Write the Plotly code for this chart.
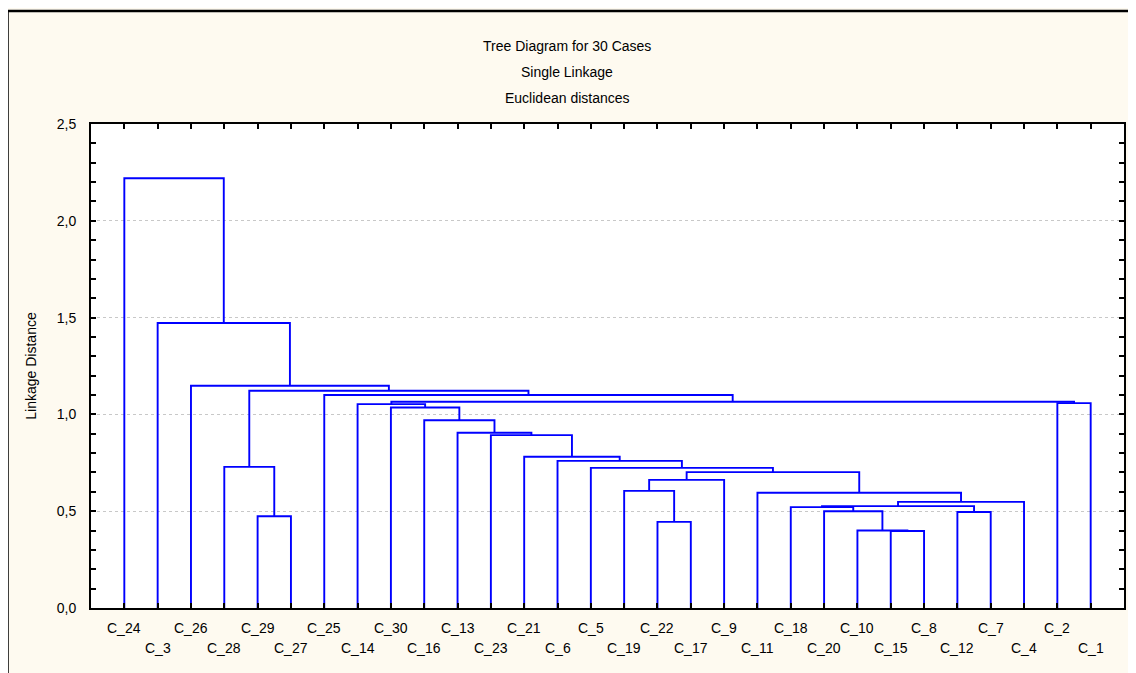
import plotly.graph_objects as go

# ---- data ----
leaves = ["C_24", "C_3", "C_26", "C_28", "C_29", "C_27", "C_25", "C_14", "C_30", "C_16",
          "C_13", "C_23", "C_21", "C_6", "C_5", "C_19", "C_22", "C_17", "C_9", "C_11",
          "C_18", "C_20", "C_10", "C_15", "C_8", "C_12", "C_7", "C_4", "C_2", "C_1"]

# merge k creates cluster "n{30+k}"
merge_left = ["C_15", "C_10", "C_22", "C_29", "C_12", "C_20", "C_18", "n36", "n37", "C_11",
              "C_19", "n40", "n41", "C_5", "C_28", "C_6", "C_21", "C_23", "C_13", "C_16",
              "C_30", "C_14", "C_2", "n51", "C_25", "n44", "C_26", "C_3", "C_24"]
merge_right = ["C_8", "n30", "C_17", "C_27", "C_7", "n31", "n35", "n34", "C_4", "n38",
               "n32", "C_9", "n39", "n42", "n33", "n43", "n45", "n46", "n47", "n48",
               "n49", "n50", "C_1", "n52", "n53", "n54", "n55", "n56", "n57"]
merge_height = [0.398, 0.400, 0.445, 0.474, 0.496, 0.500, 0.521, 0.526, 0.548, 0.595,
                0.605, 0.662, 0.702, 0.724, 0.729, 0.760, 0.781, 0.893, 0.905, 0.970,
                1.036, 1.053, 1.058, 1.065, 1.100, 1.122, 1.148, 1.472, 2.220]

y_ticks = [0.0, 0.5, 1.0, 1.5, 2.0, 2.5]

title_lines = ["Tree Diagram for 30 Cases", "Single Linkage", "Euclidean distances"]

# ---- build tree paths ----
pos = {lab: i for i, lab in enumerate(leaves)}
hgt = {lab: 0.0 for lab in leaves}
xs, ys = [], []
for k, (a, b, h) in enumerate(zip(merge_left, merge_right, merge_height)):
    xa, xb = pos[a], pos[b]
    xs += [xa, xa, xb, xb, None]
    ys += [hgt[a], h, h, hgt[b], None]
    nid = f"n{30 + k}"
    pos[nid] = (xa + xb) / 2.0
    hgt[nid] = h

fig = go.Figure(go.Scatter(x=xs, y=ys, mode="lines",
                           line=dict(color="#0000FF", width=1.9),
                           hoverinfo="skip", showlegend=False))

FONT = "Liberation Sans, Arial, sans-serif"
FS = 14

annotations = []
for i, lab in enumerate(leaves):
    annotations.append(dict(x=i, y=0, xref="x", yref="paper", text=lab, showarrow=False,
                            yanchor="middle", yshift=-20 if i % 2 == 0 else -40,
                            font=dict(family=FONT, size=FS, color="black")))
for j, t in enumerate(title_lines):
    annotations.append(dict(x=0.461, y=1, xref="paper", yref="paper", text=t, showarrow=False,
                            xanchor="center", yanchor="middle", yshift=78 - 26 * j,
                            font=dict(family=FONT, size=FS, color="black")))

fig.update_layout(
    width=1128, height=665,
    margin=dict(l=83, r=10, t=116, b=65),
    paper_bgcolor="#FEFAF0", plot_bgcolor="white",
    separators=",.",
    font=dict(family=FONT, size=FS, color="black"),
    annotations=annotations,
    shapes=[dict(type="rect", xref="paper", yref="paper",
                 xsizemode="pixel", ysizemode="pixel", xanchor=0, yanchor=1,
                 x0=-83.5, x1=1080, y0=113, y1=-620,
                 line=dict(color="black", width=2.5), layer="above")],
    xaxis=dict(range=[-1, 30], tickvals=list(range(len(leaves))), showticklabels=False,
               ticks="inside", ticklen=5, tickwidth=1.5, tickcolor="black",
               showline=True, linecolor="black", linewidth=2, mirror="ticks",
               showgrid=False, zeroline=False),
    yaxis=dict(range=[0, 2.5], tickvals=y_ticks, tickformat=".1f",
               ticks="inside", ticklen=5, tickwidth=1.5, tickcolor="black",
               showline=True, linecolor="black", linewidth=2, mirror="ticks",
               showgrid=True, gridcolor="#C8C8C8", griddash="dot", gridwidth=1,
               zeroline=False,
               minor=dict(dtick=0.1, ticks="inside", ticklen=5, tickcolor="black", showgrid=False),
               ticklabelstandoff=10,
               title=dict(text="Linkage Distance", standoff=17,
                          font=dict(family=FONT, size=FS, color="black"))),
)

fig.write_html("out.html")
